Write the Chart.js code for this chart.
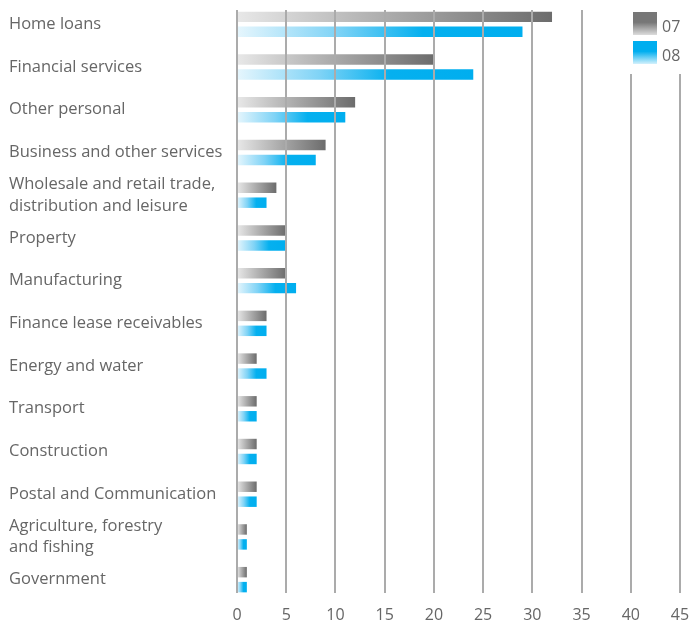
<!DOCTYPE html>
<html>
<head>
<meta charset="utf-8">
<script src="https://cdn.jsdelivr.net/npm/chart.js@4.4.1/dist/chart.umd.min.js"></script>
<style>
  html, body { margin: 0; padding: 0; background: #fff; }
  #wrap { width: 691px; height: 632px; position: relative; }
</style>
</head>
<body>
<div id="wrap"><canvas id="sectors"></canvas></div>
<script>
const sectors = [
  "Home loans",
  "Financial services",
  "Other personal",
  "Business and other services",
  ["Wholesale and retail trade,", "distribution and leisure"],
  "Property",
  "Manufacturing",
  "Finance lease receivables",
  "Energy and water",
  "Transport",
  "Construction",
  "Postal and Communication",
  ["Agriculture, forestry", "and fishing"],
  "Government",
];
const share07 = [32, 20, 12, 9, 4, 5, 5, 3, 2, 2, 2, 2, 1, 1];
const share08 = [29, 24, 11, 8, 3, 5, 6, 3, 3, 2, 2, 2, 1, 1];
const xTicks = [0, 5, 10, 15, 20, 25, 30, 35, 40, 45];

const greyStops = [[0, "#e8e8e8"], [0.5, "#a9a9a9"], [1, "#6c6c6c"]];
const blueStops = [[0, "#e6f6fd"], [0.35, "#7fd3f6"], [0.65, "#05b0ef"], [1, "#00aeef"]];

const textColor = "#666666";
const gridColor = "#ababab";
const fontFamily = "'Open Sans', sans-serif";

// each bar fades from light at zero to full colour at its own end
function barGradient(stops) {
  return (ctx) => {
    const chart = ctx.chart;
    const x = chart.scales.x;
    if (!chart.chartArea || !x || ctx.raw === undefined) return stops[stops.length - 1][1];
    const x0 = x.getPixelForValue(0);
    const x1 = x.getPixelForValue(ctx.raw);
    const g = chart.ctx.createLinearGradient(x0, 0, Math.max(x1, x0 + 1), 0);
    stops.forEach(([o, c]) => g.addColorStop(o, c));
    return g;
  };
}

// vertical grid lines (drawn over bars) and the small legend block
const gridAndLegend = {
  id: "gridAndLegend",
  afterDatasetsDraw(chart) {
    const { ctx, chartArea } = chart;
    const x = chart.scales.x;
    ctx.save();
    ctx.strokeStyle = gridColor;
    ctx.lineWidth = 2;
    xTicks.forEach((v) => {
      const px = Math.round(x.getPixelForValue(v));
      ctx.beginPath();
      ctx.moveTo(px, chartArea.top + 7);
      ctx.lineTo(px, chartArea.bottom - 8);
      ctx.stroke();
    });

    ctx.fillStyle = "#fff";
    ctx.fillRect(618, 0, 73, 74);

    const entries = [
      { label: chart.data.datasets[0].label, y: 12, top: "#777777", bottom: "#dcdcdc" },
      { label: chart.data.datasets[1].label, y: 41, top: "#00aeef", bottom: "#d4f1fc" },
    ];
    ctx.font = "16px " + fontFamily;
    ctx.textBaseline = "middle";
    ctx.textAlign = "left";
    entries.forEach((e) => {
      const g = ctx.createLinearGradient(0, e.y, 0, e.y + 23);
      g.addColorStop(0, e.top);
      g.addColorStop(0.45, e.top);
      g.addColorStop(1, e.bottom);
      ctx.fillStyle = g;
      ctx.fillRect(633, e.y, 24, 23);
      ctx.fillStyle = textColor;
      ctx.fillText(e.label, 662, e.y + 15);
    });
    ctx.restore();
  },
};

new Chart(document.getElementById("sectors"), {
  type: "bar",
  data: {
    labels: sectors,
    datasets: [
      {
        label: "07",
        data: share07,
        backgroundColor: barGradient(greyStops),
        categoryPercentage: 0.7,
        barPercentage: 0.7,
      },
      {
        label: "08",
        data: share08,
        backgroundColor: barGradient(blueStops),
        categoryPercentage: 0.7,
        barPercentage: 0.7,
      },
    ],
  },
  options: {
    indexAxis: "y",
    responsive: true,
    maintainAspectRatio: false,
    animation: false,
    layout: { padding: { left: 9, right: 11, top: 3, bottom: 0 } },
    plugins: {
      legend: { display: false },
      tooltip: { enabled: false },
    },
    scales: {
      x: {
        min: 0,
        max: 45,
        afterBuildTicks: (scale) => {
          scale.ticks = xTicks.map((v) => ({ value: v }));
        },
        afterFit: (scale) => {
          scale.height = 31;
          scale.paddingLeft = 0;
          scale.paddingRight = 0;
        },
        grid: { display: false, drawTicks: false },
        border: { display: false },
        ticks: {
          padding: 5,
          color: textColor,
          font: { family: fontFamily, size: 16 },
          maxRotation: 0,
        },
      },
      y: {
        afterFit: (scale) => {
          scale.width = 228;
          scale.paddingTop = 0;
          scale.paddingBottom = 0;
        },
        grid: { display: false, drawTicks: false },
        border: { display: false },
        ticks: {
          crossAlign: "far",
          color: textColor,
          autoSkip: false,
          font: { family: fontFamily, size: 16.5, lineHeight: 1.3 },
        },
      },
    },
  },
  plugins: [gridAndLegend],
});
</script>
</body>
</html>
